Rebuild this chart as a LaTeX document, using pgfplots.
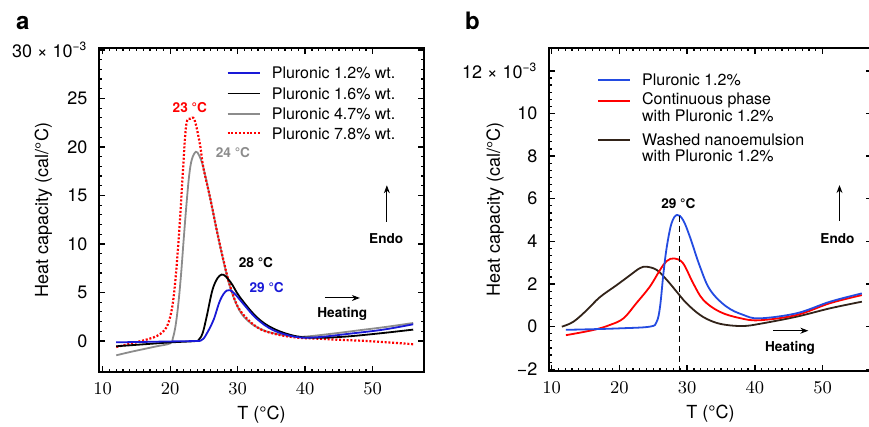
\documentclass[border=0pt]{standalone}
\usepackage{fontspec}
\setmainfont{TeX Gyre Heros}
\usepackage{pgfplots}
\pgfplotsset{compat=1.18}
\usetikzlibrary{arrows.meta}

\definecolor{ablue}{RGB}{25,25,215}
\definecolor{bblue}{RGB}{35,75,225}
\definecolor{cgray}{RGB}{140,140,140}
\definecolor{cbrown}{RGB}{50,35,25}

\newcommand{\tkf}{\fontsize{9}{10}\selectfont}
\newcommand{\lgf}{\fontsize{8}{8}\selectfont}
\newcommand{\anf}{\fontsize{6.8}{7}\selectfont\bfseries}

\pgfplotsset{
  dsc/.style={
    scale only axis,
    axis lines=box,
    tick align=inside,
    major tick length=3pt, minor tick length=1.7pt,
    every major tick/.append style={draw=black, line width=0.7pt},
    every minor tick/.append style={draw=black, line width=0.6pt},
    tick label style={font=\tkf},
    xticklabel style={yshift=-2pt},
    yticklabel style={xshift=-2.3pt},
    xtick={10,20,30,40,50},
    minor x tick num=9,
    clip=false,
  },
  dsccurve/.style={line width=0.9pt},
}

\begin{document}
\begin{tikzpicture}
\useasboundingbox (0,0) rectangle (434.5pt,213.5pt);
\node[anchor=base west, font=\fontsize{12}{12}\selectfont\bfseries] at (4.5pt,198.5pt) {a};
\node[anchor=base west, font=\fontsize{12}{12}\selectfont\bfseries] at (229pt,198.5pt) {b};

% ---------- panel a ----------
\begin{axis}[dsc,
    at={(49.5pt,27.5pt)}, anchor=south west,
    width=162.5pt, height=162pt,
    xmin=9.45, xmax=57.6, ymin=-3.2, ymax=30.2,
    ytick={0,5,10,15,20,25,30},
    yticklabels={0,5,10,15,20,25,{30 × 10\textsuperscript{−3}}},
    minor y tick num=4,
]
\addplot[dsccurve, smooth, tension=0.6, cgray] coordinates {
 (12,-1.48)(14,-1.15)(16,-0.85)(18,-0.55)(20,-0.25)(20.4,0.3)(20.8,1.6)
 (21.2,3.8)(21.6,6.8)(22.0,10.5)(22.4,14)(22.8,17)(23.2,18.7)(23.8,19.5)
 (24.3,19.1)(24.9,17.9)(25.9,14.8)(26.9,11.4)(27.9,8.2)(28.9,5.5)(30.3,3.1)
 (32,1.8)(34,1.05)(36,0.7)(38,0.48)(40,0.45)(44,0.75)(48,1.1)(52,1.45)(56,1.85)};
\addplot[dsccurve, smooth, tension=0.6, red, line width=1.1pt, dash pattern=on 1pt off 0.9pt] coordinates {
 (12,-0.62)(14,-0.3)(16,0.05)(17,0.25)(18,0.5)(19,1.0)(19.7,1.8)(20.3,3.5)
 (20.8,6.5)(21.3,11)(21.8,16.5)(22.2,21)(22.5,22.7)(23.0,22.9)(23.6,22.8)
 (24.4,20.3)(24.9,17.9)(25.9,14.8)(26.9,11.4)(27.9,8.3)(28.9,5.6)(30.3,3.2)
 (32.8,1.45)(35.3,0.76)(38.7,0.35)(41.7,0.24)(45,0.12)(49,0)(53,-0.18)(56,-0.34)};
\addplot[dsccurve, smooth, tension=0.6, black] coordinates {
 (12,-0.55)(16,-0.35)(20,-0.15)(23.6,-0.02)(24.2,0.1)(24.8,0.8)(25.4,2.5)(26.4,5.57)
 (27.6,6.84)(28.9,6.1)(30.3,4.54)(32.8,2.47)(35.3,1.27)(38.7,0.48)(42,0.33)
 (46,0.45)(51,0.78)(56,1.17)};
\addplot[dsccurve, smooth, tension=0.6, ablue] coordinates {
 (12,-0.14)(16,-0.1)(20,-0.05)(24.0,0)(24.6,0.08)(25.2,0.5)(26.4,2.13)(27.4,4.2)
 (28.4,5.2)(29.35,5.0)(30.8,3.85)(32.8,2.3)(35.3,1.1)(38.7,0.41)(41.7,0.38)
 (46.6,0.75)(51.6,1.17)(56,1.72)};
\draw[black, line width=1pt] (rel axis cs:0,0) rectangle (rel axis cs:1,1);
% legend
\draw[ablue, line width=0.9pt] (axis cs:28.5,27.6) -- (axis cs:33.3,27.6);
\draw[black, line width=0.9pt] (axis cs:28.5,25.5) -- (axis cs:33.3,25.5);
\draw[cgray, line width=0.9pt] (axis cs:28.5,23.4) -- (axis cs:33.3,23.4);
\draw[red, line width=1.1pt, dash pattern=on 1pt off 0.9pt] (axis cs:28.5,21.4) -- (axis cs:33.3,21.4);
\node[anchor=west, font=\lgf, inner sep=0] at (axis cs:35.0,27.6) {Pluronic 1.2\% wt.};
\node[anchor=west, font=\lgf, inner sep=0] at (axis cs:35.0,25.5) {Pluronic 1.6\% wt.};
\node[anchor=west, font=\lgf, inner sep=0] at (axis cs:35.0,23.4) {Pluronic 4.7\% wt.};
\node[anchor=west, font=\lgf, inner sep=0] at (axis cs:35.0,21.4) {Pluronic 7.8\% wt.};
% annotations
\node[font=\anf, red] at (axis cs:22.9,24.05) {23 °C};
\node[font=\anf, cgray] at (axis cs:29.3,19.4) {24 °C};
\node[font=\anf, black] at (axis cs:32.7,8.1) {28 °C};
\node[font=\anf, ablue] at (axis cs:34.3,5.5) {29 °C};
\node[font=\anf] at (axis cs:52,10.55) {Endo};
\draw[-{Stealth[length=4pt,width=3pt]}, line width=0.5pt] (axis cs:52.1,12.3) -- (axis cs:52.1,16.05);
\node[font=\anf] at (axis cs:45.5,2.75) {Heating};
\draw[-{Stealth[length=4pt,width=3pt]}, line width=0.5pt] (axis cs:42.9,4.43) -- (axis cs:48.1,4.43);
\node[font=\tkf] at ([yshift=-21.5pt]axis description cs:0.5,0) {T (°C)};
\node[font=\tkf, rotate=90] at ([xshift=-27.8pt]axis description cs:0,0.5) {Heat capacity (cal/°C)};
\end{axis}

% ---------- panel b ----------
\begin{axis}[dsc,
    at={(274.5pt,28pt)}, anchor=south west,
    width=161.5pt, height=161.5pt,
    xmin=9.6, xmax=57.3, ymin=-2.08, ymax=13.07,
    ytick={-2,0,2,4,6,8,10,12},
    yticklabels={−2,0,2,4,6,8,10,{12 × 10\textsuperscript{−3}}},
    minor y tick num=5, ytick pos=left,
]
\addplot[dsccurve, smooth, tension=0.6, cbrown] coordinates {
 (11.5,0)(13.2,0.23)(15.2,0.78)(17.1,1.38)(19.6,1.95)(21.6,2.42)(23.0,2.74)
 (24.0,2.81)(25.5,2.66)(27.0,2.19)(28.45,1.64)(29.9,1.1)(31.9,0.55)(33.85,0.23)
 (35.8,0.08)(38.3,0.03)(40.7,0.13)(46.2,0.47)(51.1,0.86)(55.8,1.17)};
\addplot[dsccurve, smooth, tension=0.6, red] coordinates {
 (12.1,-0.4)(16.1,-0.16)(18.6,0.08)(20.6,0.39)(22.5,1.1)(24.5,1.88)(26.0,2.66)
 (27.0,3.08)(28.1,3.2)(29.4,2.97)(30.9,2.03)(32.4,1.25)(34.8,0.7)(37.8,0.4)
 (40.7,0.3)(46.2,0.55)(51.1,1.1)(55.8,1.48)};
\addplot[dsccurve, smooth, tension=0.6, bblue] coordinates {
 (12.1,-0.15)(16,-0.12)(20,-0.08)(24.5,0)(25.5,0.23)(26.0,0.94)(26.5,2.5)
 (27.0,3.75)(27.7,4.85)(28.5,5.24)(29.4,5.0)(30.4,4.22)(31.9,2.81)(33.4,1.72)
 (35.8,0.94)(38.3,0.55)(40.7,0.39)(46.2,0.63)(51.1,1.17)(55.8,1.56)};
\draw[line width=0.7pt, dash pattern=on 3pt off 2pt] (axis cs:28.84,5.2) -- (axis cs:28.84,-2.08);
\draw[black, line width=1pt] (rel axis cs:0,0) rectangle (rel axis cs:1,1);
% legend
\draw[bblue, line width=0.9pt] (axis cs:16.9,11.56) -- (axis cs:21.6,11.56);
\draw[red, line width=0.9pt] (axis cs:16.9,10.6) -- (axis cs:21.6,10.6);
\draw[cbrown, line width=0.9pt] (axis cs:16.9,8.75) -- (axis cs:21.6,8.75);
\node[anchor=west, font=\lgf, inner sep=0] at (axis cs:23.3,11.56) {Pluronic 1.2\%};
\node[anchor=west, font=\lgf, inner sep=0] at (axis cs:23.3,10.6) {Continuous phase};
\node[anchor=west, font=\lgf, inner sep=0] at (axis cs:23.3,9.88) {with Pluronic 1.2\%};
\node[anchor=west, font=\lgf, inner sep=0] at (axis cs:23.3,8.75) {Washed nanoemulsion};
\node[anchor=west, font=\lgf, inner sep=0] at (axis cs:23.3,8.03) {with Pluronic 1.2\%};
% annotations
\node[font=\anf] at (axis cs:28.7,5.78) {29 °C};
\node[font=\anf] at (axis cs:52.2,4.14) {Endo};
\draw[-{Stealth[length=4pt,width=3pt]}, line width=0.5pt] (axis cs:52.5,4.97) -- (axis cs:52.5,6.64);
\node[font=\anf] at (axis cs:45.2,-0.98) {Heating};
\draw[-{Stealth[length=4pt,width=3pt]}, line width=0.5pt] (axis cs:42.7,-0.19) -- (axis cs:47.9,-0.19);
\node[font=\tkf] at ([yshift=-21.5pt]axis description cs:0.5,0) {T (°C)};
\node[font=\tkf, rotate=90] at ([xshift=-27pt]axis description cs:0,0.5) {Heat capacity (cal/°C)};
\end{axis}
\begin{axis}[dsc,
    at={(274.5pt,28pt)}, anchor=south west,
    width=161.5pt, height=161.5pt,
    xmin=9.6, xmax=57.3, ymin=-2.08, ymax=13.07,
    xtick=\empty, minor x tick num=0,
    ytick={-2,0,2,4,6,8,10,12}, yticklabels={},
    minor y tick num=1, ytick pos=right,
]
\end{axis}
\end{tikzpicture}
\end{document}
